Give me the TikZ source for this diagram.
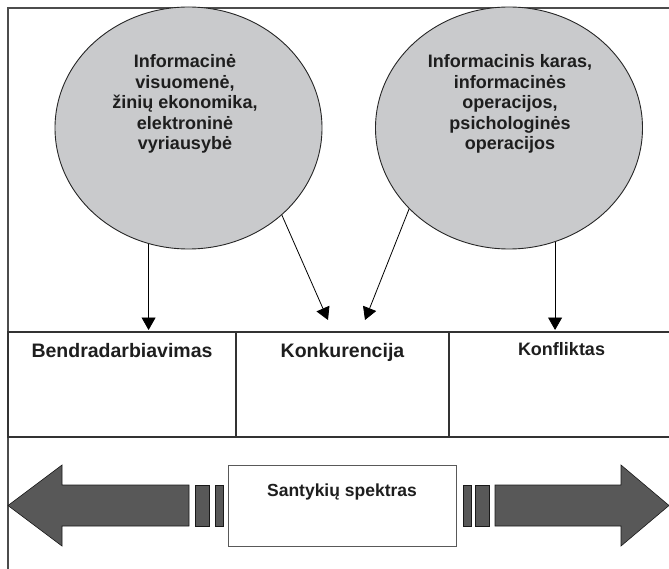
\documentclass[tikz,border=0pt]{standalone}
\usepackage{fontspec}
\setmainfont{Liberation Sans}
\usetikzlibrary{shapes.geometric, arrows.meta, positioning}
\definecolor{E}{RGB}{201,202,204}
\definecolor{D}{RGB}{88,88,88}
\definecolor{T}{RGB}{30,30,30}
\tikzstyle{bubble} = [ellipse, draw=black!85, fill=E, line width=0.9pt,
minimum width=267pt, minimum height=242pt, inner sep=0pt]
\tikzstyle{bubbletext} = [align=center, text=T,
font=\fontsize{18}{20.5}\selectfont\bfseries]
\tikzstyle{cell} = [rectangle, draw=black!80, line width=1.3pt,
minimum height=105pt, inner sep=0pt, outer sep=0pt]
\tikzstyle{celltext} = [anchor=base, text=T, font=\fontsize{19.5}{22}\selectfont\bfseries]
\tikzstyle{arrow} = [-{Triangle[length=12.5pt,width=14pt]}, line width=0.8pt]
\tikzstyle{bigarrow} = [draw=black!90, fill=D, line width=0.6pt]

\begin{document}
\begin{tikzpicture}[x=1pt, y=-1pt]
    \useasboundingbox (0,0) rectangle (669,569);
    \draw[line width=1.3pt, black!70] (8,569) -- (8,8) -- (669,8);

    % the two bubbles
    \node[bubble] (society) at (188.5,128) {};
    \node[bubble] (war)     at (509,128)   {};
    \node[bubbletext] (societytext) at (185,104) {Informacinė\\visuomenė,\\žinių ekonomika,\\elektroninė\\vyriausybė};
    \node[bubbletext] (wartext)     at (510,104) {Informacinis karas,\\informacinės\\operacijos,\\psichologinės\\operacijos};

    % relation cells
    \node[cell, minimum width=228pt]                  (coop) at (122,384.5) {};
    \node[cell, minimum width=213pt, right=0pt of coop] (comp) {};
    \node[cell, minimum width=225pt, right=0pt of comp] (conf) {};
    \node[celltext] (cooptext) at ([yshift=-25pt]coop.north) {Bendradarbiavimas};
    \node[celltext] (comptext) at ([yshift=-25pt]comp.north) {Konkurencija};
    \node[celltext, font=\fontsize{18}{21}\selectfont\bfseries] (conftext) at ([yshift=-23pt]conf.north) {Konfliktas};

    \coordinate (compl) at (328,320);
    \coordinate (compr) at (365,320);
    \draw[arrow] (society.-109.4) -- ([yshift=2pt]society.-109.4 |- coop.north);
    \draw[arrow] (society.-43.2) -- (compl);
    \draw[arrow] (war.-141) -- (compr);
    \draw[arrow] (war.-68.5) -- ([yshift=2pt]war.-68.5 |- conf.north);

    % spectrum
    \node[draw=black!65, line width=1pt, minimum width=228pt, minimum height=81pt, inner sep=0pt] (range) at (342,505.5) {};
    \node[celltext, font=\fontsize{17.5}{21}\selectfont\bfseries] (rangetext) at ([yshift=-32pt]range.north) {Santykių spektras};

    \draw[bigarrow] (8,505.5) -- (62,465) -- (62,485) -- (189,485) -- (189,526) -- (62,526) -- (62,546) -- cycle;
    \draw[bigarrow] (195,485) rectangle (209,526);
    \draw[bigarrow] (215,485) rectangle (223,526);
    \draw[bigarrow] (463,485) rectangle (471,526);
    \draw[bigarrow] (475,485) rectangle (489,526);
    \draw[bigarrow] (495,485) -- (621,485) -- (621,465) -- (669,505.5) -- (621,546) -- (621,526) -- (495,526) -- cycle;
\end{tikzpicture}
\end{document}
